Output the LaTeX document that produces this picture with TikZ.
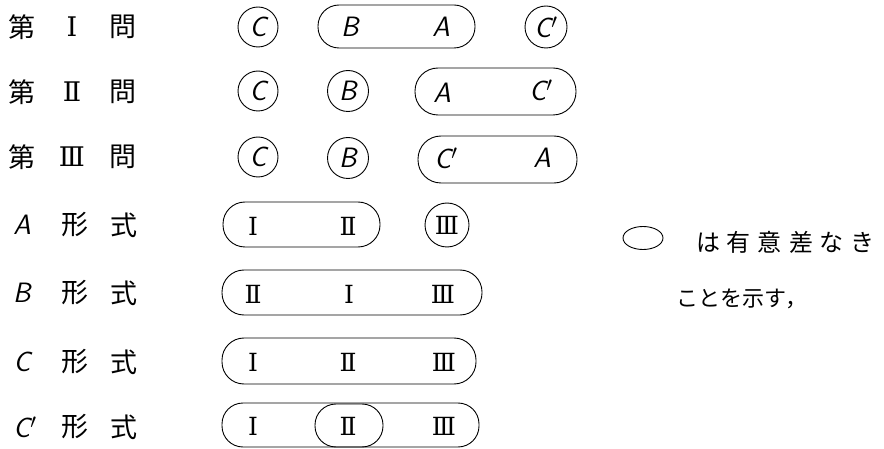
\documentclass[tikz,border=0pt]{standalone}
\usepackage{fontspec}
\newfontfamily\jp{Noto Sans CJK JP}
\newfontfamily\romnum{DejaVu Serif}
\usetikzlibrary{shapes.geometric}
\begin{document}
\begin{tikzpicture}[x=1pt,y=-1pt,
  every node/.style={inner sep=0pt, outer sep=0pt},
  ring/.style={draw, circle, line width=0.9pt, minimum size=#1},
  ring/.default=40pt,
  stad/.style={draw, line width=0.9pt, rounded corners=21pt},
  lbl/.style={font=\jp\fontsize{27}{27}\selectfont},
  lnum/.style={font=\romnum\fontsize{27}{27}\selectfont},
  let/.style={font=\sffamily\itshape\fontsize{28}{28}\selectfont},
  num/.style={font=\romnum\fontsize{25}{25}\selectfont},
  legend/.style={font=\jp\fontsize{24}{24}\selectfont, anchor=west},
]
\useasboundingbox (0,0) rectangle (884,449);

% ---- row labels ----
\node[lbl] (l1a) at (22,27) {第};  \node[lnum] (l1b) at (72,27) {Ⅰ};  \node[lbl] (l1c) at (123,27) {問};
\node[lbl] (l2a) at (22,92) {第};  \node[lnum] (l2b) at (72,92) {Ⅱ};  \node[lbl] (l2c) at (123,92) {問};
\node[lbl] (l3a) at (22,157) {第}; \node[lnum] (l3b) at (72,157) {Ⅲ}; \node[lbl] (l3c) at (123,157) {問};
\node[let] (l4a) at (22,225) {A};  \node[lbl] (l4b) at (75,225) {形}; \node[lbl] (l4c) at (124,225) {式};
\node[let] (l5a) at (22,293) {B};  \node[lbl] (l5b) at (75,293) {形}; \node[lbl] (l5c) at (124,293) {式};
\node[let] (l6a) at (22,362) {C};  \node[lbl] (l6b) at (75,362) {形}; \node[lbl] (l6c) at (124,362) {式};
\node[let] (l7a) at (25,427) {C$'$}; \node[lbl] (l7b) at (75,427) {形}; \node[lbl] (l7c) at (124,427) {式};

% ---- row 1 ----
\node[ring, let] (r1c) at (258,27) {C};
\node[stad, minimum width=157pt, minimum height=43pt] (r1s) at (396.5,26.5) {};
\node[let] (r1b) at (350,27) {B};
\node[let] (r1a) at (441,27) {A};
\node[ring=42pt, let] (r1cp) at (546,27) {C$'$};

% ---- row 2 ----
\node[ring, let] (r2c) at (258,91) {C};
\node[ring=41pt, let] (r2b) at (348,91) {B};
\node[stad, minimum width=161pt, minimum height=47pt, rounded corners=23pt] (r2s) at (495.5,91.5) {};
\node[let] (r2a) at (442,93) {A};
\node[let] (r2cp) at (541,90) {C$'$};

% ---- row 3 ----
\node[ring, let] (r3c) at (258,157) {C};
\node[ring=41pt, let] (r3b) at (348,158) {B};
\node[stad, minimum width=159pt, minimum height=47pt, rounded corners=23pt] (r3s) at (497.5,159.5) {};
\node[let] (r3cp) at (446,158) {C$'$};
\node[let] (r3a) at (542,158) {A};

% ---- row 4 : A form ----
\node[stad, minimum width=157pt, minimum height=45pt, rounded corners=22pt] (r4s) at (301.5,224.5) {};
\node[num] (r4i) at (253,226) {Ⅰ};
\node[num] (r4ii) at (348,226) {Ⅱ};
\node[ring=44pt, num] (r4iii) at (447,225) {Ⅲ};

% ---- row 5 : B form ----
\node[stad, minimum width=260pt, minimum height=45pt, rounded corners=22pt] (r5s) at (352,292.5) {};
\node[num] (r5ii) at (253,294) {Ⅱ};
\node[num] (r5i) at (349,294) {Ⅰ};
\node[num] (r5iii) at (443,294) {Ⅲ};

% ---- row 6 : C form ----
\node[stad, minimum width=254pt, minimum height=46pt, rounded corners=22pt] (r6s) at (349,361) {};
\node[num] (r6i) at (253,362) {Ⅰ};
\node[num] (r6ii) at (348,362) {Ⅱ};
\node[num] (r6iii) at (444,362) {Ⅲ};

% ---- row 7 : C' form ----
\node[stad, minimum width=257pt, minimum height=44pt, rounded corners=21pt] (r7s) at (350.5,425) {};
\node[stad, minimum width=68pt, minimum height=43pt, rounded corners=21pt] (r7in) at (349,425.5) {};
\node[num] (r7i) at (253,426) {Ⅰ};
\node[num] (r7ii) at (348,426) {Ⅱ};
\node[num] (r7iii) at (444,426) {Ⅲ};

% ---- legend ----
\node[draw, ellipse, line width=0.9pt, minimum width=40pt, minimum height=23pt] (lg) at (643,238) {};
\node[legend] (lg1) at (696,242) {は\hspace{7pt}有\hspace{7pt}意\hspace{7pt}差\hspace{7pt}な\hspace{7pt}き};
\node[legend, font=\jp\fontsize{22}{22}\selectfont] (lg2) at (676,299) {ことを示す，};
\end{tikzpicture}
\end{document}
